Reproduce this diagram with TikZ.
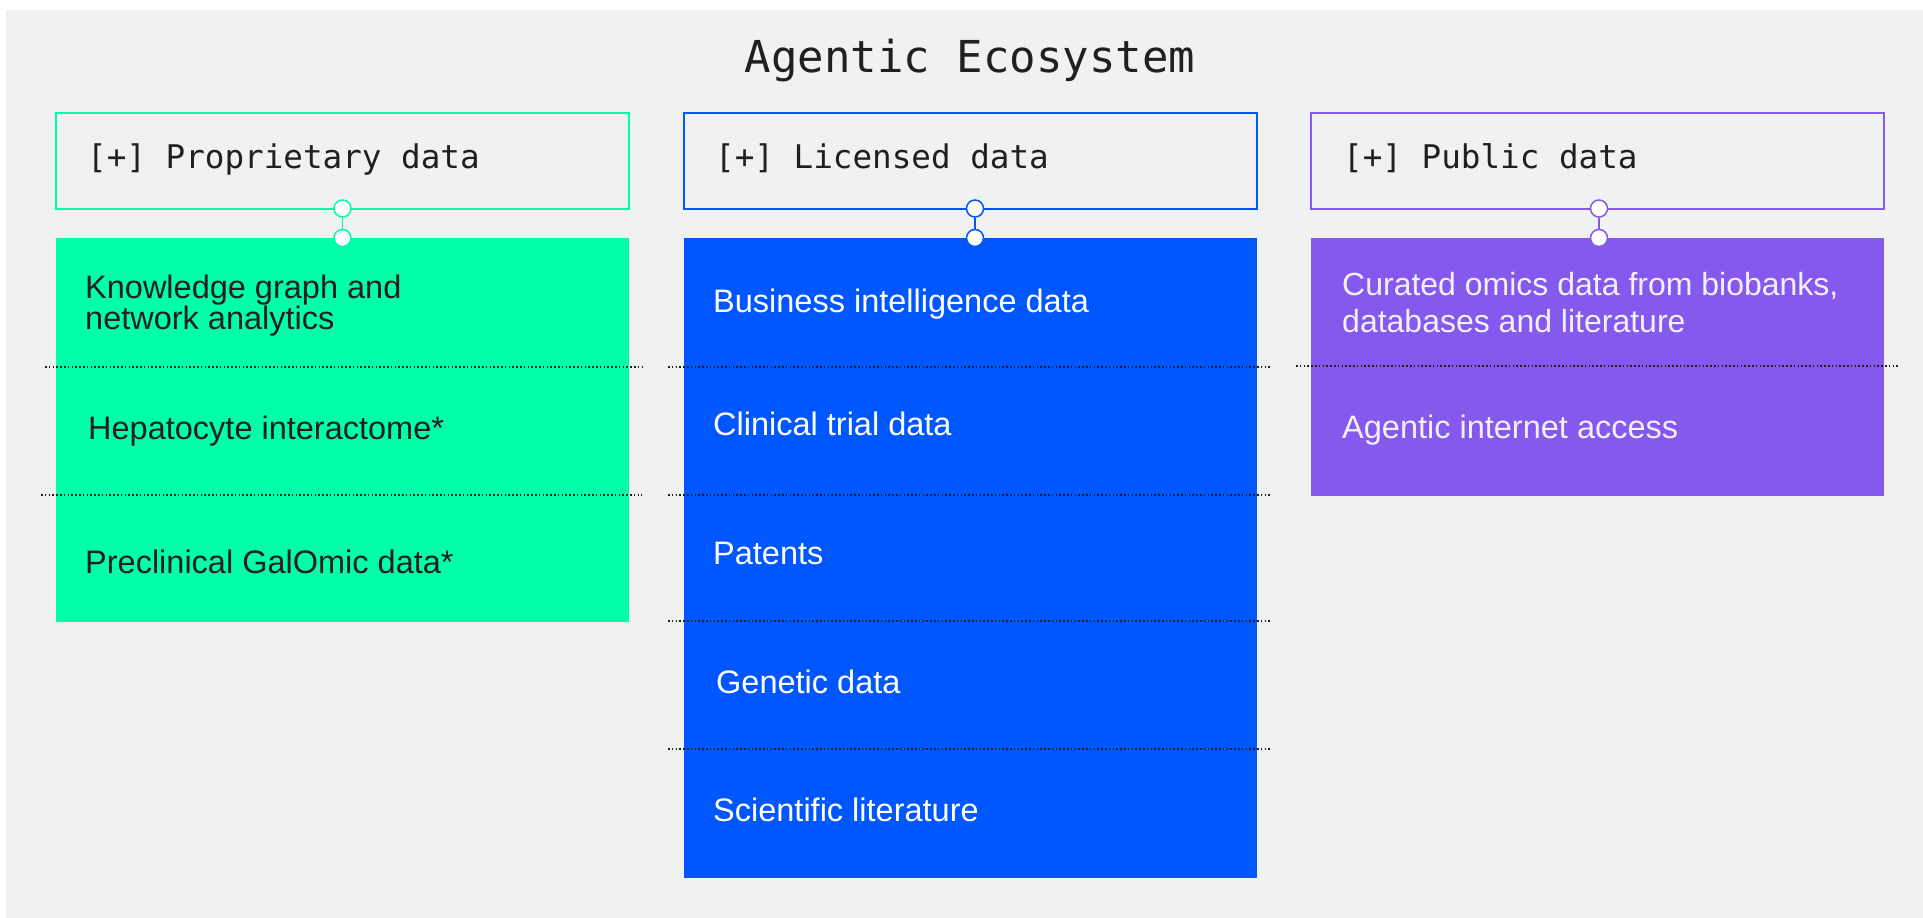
\documentclass[tikz,border=0pt]{standalone}
\usepackage{fontspec}
\setmainfont{Liberation Sans}
\newfontfamily\monof{DejaVu Sans Mono}
\definecolor{bgc}{RGB}{240,242,241}
\definecolor{grn}{RGB}{0,255,170}
\definecolor{blu}{RGB}{0,87,255}
\definecolor{pur}{RGB}{133,88,238}
\definecolor{ink}{RGB}{35,31,32}
\definecolor{dotc}{RGB}{30,30,30}
\definecolor{lav}{RGB}{242,240,252}
\begin{document}
\begin{tikzpicture}[x=1pt,y=-1pt,
  hdr/.style={draw, line width=2pt, fill=bgc, minimum width=573pt, minimum height=95.5pt, inner sep=0pt, outer sep=0pt, anchor=north west},
  blk/.style={minimum width=573pt, inner sep=0pt, outer sep=0pt, anchor=north west},
  dotn/.style={circle, fill=white, line width=1.5pt, minimum size=17pt, inner sep=0pt},
  link/.style={line width=1.6pt},
  sep/.style={dotc, line width=1.8pt, dash pattern=on 1.6pt off 2.2pt},
  hlabel/.style={anchor=base west, inner sep=0pt, text=ink, font=\monof\fontsize{32.6}{38}\selectfont},
  body/.style={anchor=base west, inner sep=0pt, font=\fontsize{32.5}{39}\selectfont}]
\useasboundingbox (0,0) rectangle (1923,918);
\fill[bgc] (6,10) rectangle (1923,918);
\node[anchor=base, inner sep=0pt, text=ink, font=\monof\fontsize{44}{50}\selectfont] (title) at (970,72) {Agentic Ecosystem};
% headers
\node[hdr, draw=grn] (h1) at (56,113) {};
\node[hdr, draw=blu] (h2) at (684,113) {};
\node[hdr, draw=pur] (h3) at (1311,113) {};
\node[hlabel] (h1t) at (87,168) {[+] Proprietary data};
\node[hlabel] (h2t) at (715,168) {[+] Licensed data};
\node[hlabel] (h3t) at (1343,168) {[+] Public data};
% blocks
\node[blk, fill=grn, minimum height=384pt] (f1) at (56,238) {};
\node[blk, fill=blu, minimum height=640pt] (f2) at (684,238) {};
\node[blk, fill=pur, minimum height=257.5pt] (f3) at (1311,238) {};
% connectors
\node[dotn, draw=grn] (c1a) at (h1.south) {};
\node[dotn, draw=grn] (c1b) at (f1.north) {};
\node[dotn, draw=blu] (c2a) at ([xshift=4.5pt]h2.south) {};
\node[dotn, draw=blu] (c2b) at ([xshift=4.5pt]f2.north) {};
\node[dotn, draw=pur] (c3a) at ([xshift=1.5pt]h3.south) {};
\node[dotn, draw=pur] (c3b) at ([xshift=1.5pt]f3.north) {};
\draw[link, grn] (c1a) -- (c1b);
\draw[link, blu] (c2a) -- (c2b);
\draw[link, pur] (c3a) -- (c3b);
% separators
\draw[sep] (45,367) -- (642,367);
\draw[sep] (41,495) -- (642,495);
\draw[sep] (668,367) -- (1271,367);
\draw[sep] (668,495) -- (1271,495);
\draw[sep] (668,621) -- (1271,621);
\draw[sep] (668,749) -- (1271,749);
\draw[sep] (1296,366) -- (1900,366);
% column 1 texts
\node[body, text=ink, align=left, font=\fontsize{32.5}{30.6}\selectfont] (t11) at (85,329) {Knowledge graph and\\network analytics};
\node[body, text=ink] (t12) at (88,439.5) {Hepatocyte interactome*};
\node[body, text=ink] (t13) at (85,573) {Preclinical GalOmic data*};
% column 2 texts
\node[body, text=white] (t21) at (713,312) {Business intelligence data};
\node[body, text=white] (t22) at (713,435.5) {Clinical trial data};
\node[body, text=white] (t23) at (713,564) {Patents};
\node[body, text=white] (t24) at (716,693) {Genetic data};
\node[body, text=white] (t25) at (713,821.5) {Scientific literature};
% column 3 texts
\node[body, text=lav, align=left, font=\fontsize{32}{37.5}\selectfont] (t31) at (1342,332.5) {Curated omics data from biobanks,\\databases and literature};
\node[body, text=lav] (t32) at (1342,438) {Agentic internet access};
\end{tikzpicture}
\end{document}
